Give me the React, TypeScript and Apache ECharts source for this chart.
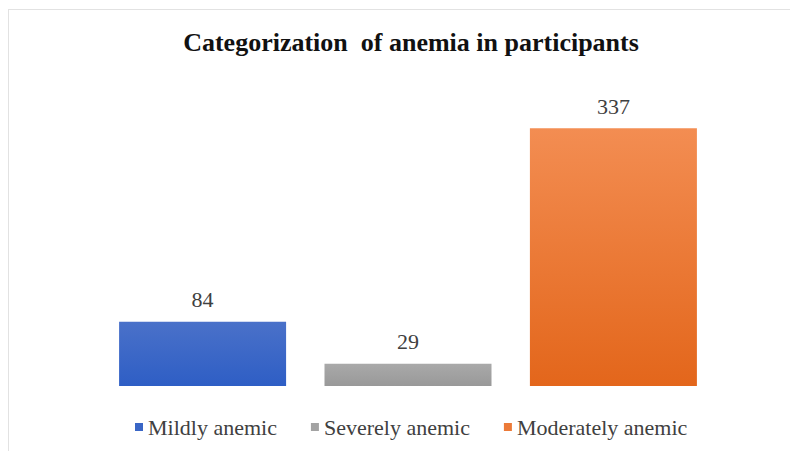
import React, { useEffect, useRef } from "react";
import * as echarts from "echarts";

const categories = ["Anemia"];
const seriesNames = ["Mildly anemic", "Severely anemic", "Moderately anemic"];
const seriesValues = [84, 29, 337];
const seriesTop = ["#4a71c9", "#a9a9a9", "#f38d52"];
const seriesBottom = ["#2e5ec5", "#999999", "#e3661b"];
const legendColors = ["#3a66c6", "#a3a3a3", "#ec7a38"];

export default function App() {
  const ref = useRef<HTMLDivElement>(null);
  useEffect(() => {
    if (!ref.current) return;
    const chart = echarts.init(ref.current, null, { renderer: "svg" });
    const serif = "'Liberation Serif', 'Times New Roman', serif";
    chart.setOption({
      animation: false,
      backgroundColor: "#ffffff",
      title: {
        text: "Categorization  of anemia in participants",
        left: 406,
        textAlign: "center",
        top: 24,
        textStyle: { fontFamily: serif, fontSize: 26, fontWeight: "bold", color: "#111111" },
      },
      legend: {
        top: 411,
        left: 130,
        icon: "rect",
        itemWidth: 8,
        itemHeight: 8,
        itemGap: 34,
        data: seriesNames.map((n, i) => ({ name: n, itemStyle: { color: legendColors[i] } })),
        textStyle: { fontFamily: serif, fontSize: 22, color: "#404040" },
      },
      grid: { left: 98, right: 72, top: 80, bottom: 65 },
      xAxis: {
        type: "category",
        data: categories,
        show: false,
      },
      yAxis: { type: "value", min: 0, max: 400, show: false },
      graphic: [
        { type: "line", shape: { x1: 8, y1: 9.5, x2: 790, y2: 9.5 }, style: { stroke: "#e2e2e2", lineWidth: 1 } },
        { type: "line", shape: { x1: 8.5, y1: 9, x2: 8.5, y2: 451 }, style: { stroke: "#e2e2e2", lineWidth: 1 } },
      ],
      series: seriesNames.map((name, i) => ({
        name,
        type: "bar",
        barWidth: 167,
        barGap: "23%",
        data: [seriesValues[i]],
        itemStyle: {
          color: new echarts.graphic.LinearGradient(0, 0, 0, 1, [
            { offset: 0, color: seriesTop[i] },
            { offset: 1, color: seriesBottom[i] },
          ]),
        },
        label: {
          show: true,
          position: "top",
          distance: 11,
          fontFamily: serif,
          fontSize: 22,
          color: "#404040",
        },
      })),
    });
    return () => chart.dispose();
  }, []);
  return (
    <div
      ref={ref}
      style={{ position: "absolute", left: 0, top: 0, width: 790, height: 451 }}
    />
  );
}
